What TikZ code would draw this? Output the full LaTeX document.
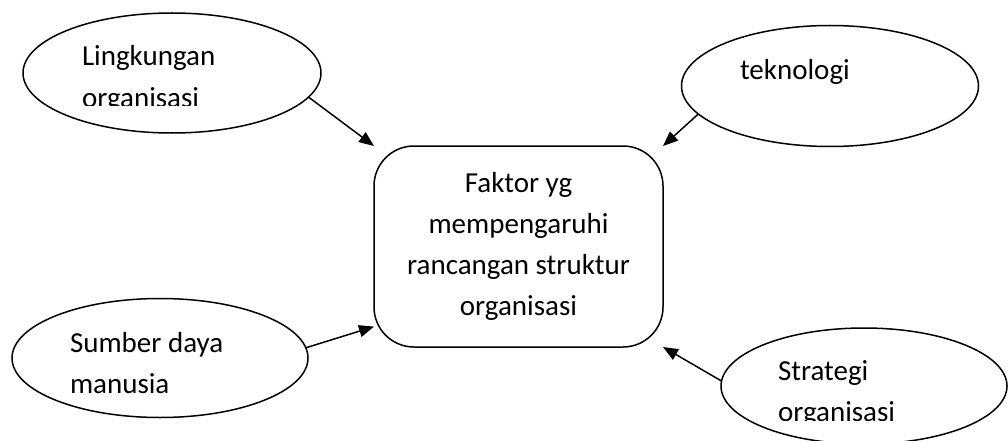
\documentclass[tikz,border=0pt]{standalone}
\usepackage{fontspec}
\setmainfont{Carlito}
\usetikzlibrary{shapes.geometric,arrows.meta}
\begin{document}
\begin{tikzpicture}[x=1pt,y=-1pt,
  every node/.style={outer sep=0pt},
  bubble/.style={draw, ellipse, line width=1.5pt, inner sep=0pt},
  caption/.style={font=\fontsize{29}{41}\selectfont, inner sep=0pt, anchor=base west},
  hub/.style={draw, rectangle, rounded corners=40pt, line width=1.5pt,
    minimum width=289pt, minimum height=201pt, align=center, inner sep=0pt,
    font=\fontsize{29}{41}\selectfont},
  link/.style={line width=1.5pt, -{Triangle[length=15pt,width=12pt]}}
]
\useasboundingbox (0,0) rectangle (1008,441);
\fill[white] (0,0) rectangle (1008,441);

% the four influencing factors
\node[bubble, minimum width=298pt, minimum height=120pt] (env) at (172,73) {};
\node[bubble, minimum width=297pt, minimum height=121pt] (tech) at (830,86) {};
\node[bubble, minimum width=296pt, minimum height=119pt] (hr) at (160,358) {};
\node[bubble, minimum width=286pt, minimum height=116pt] (strat) at (864,386) {};

% central topic
\node[hub] (core) at (518.5,246.5) {Faktor yg\\mempengaruhi\\rancangan struktur\\organisasi};

% labels of the factors (some are cut off by their text frame)
\begin{scope}
  \clip (0,0) rectangle (1008,106);
  \node[caption] (envA) at (82,66) {Lingkungan};
  \node[caption] (envB) at (82,107) {organisasi};
\end{scope}
\node[caption] (techA) at (740,80) {teknologi};
\node[caption] (hrA) at (70,352) {Sumber daya};
\node[caption] (hrB) at (70,393) {manusia};
\begin{scope}
  \clip (0,0) rectangle (1008,420);
  \node[caption] (stratA) at (778,380) {Strategi};
  \node[caption] (stratB) at (778,421) {organisasi};
\end{scope}

% influences
\draw[link] (env.-10) -- (core.north west);
\draw[link] (tech.192) -- (core.north east);
\draw[link] (hr.4) -- (core.209);
\draw[link] (strat.178) -- (core.south east);
\end{tikzpicture}
\end{document}
